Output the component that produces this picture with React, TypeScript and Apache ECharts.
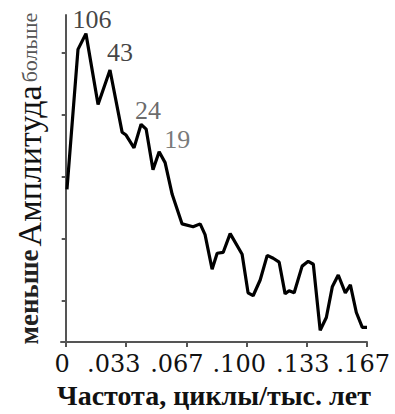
import React, { useEffect, useRef } from "react";
import * as echarts from "echarts";

// Frequency (cycles / thousand years) and relative amplitude
const freq = [0.0007, 0.0068, 0.0112, 0.0179, 0.0245, 0.0312, 0.0334, 0.0378, 0.0417, 0.0445, 0.0483, 0.0517, 0.0550, 0.0589, 0.0644, 0.0705, 0.0744, 0.0771, 0.0810, 0.0838, 0.0871, 0.0910, 0.0976, 0.1009, 0.1037, 0.1076, 0.1115, 0.1148, 0.1181, 0.1214, 0.1236, 0.1264, 0.1308, 0.1342, 0.1370, 0.1408, 0.1442, 0.1475, 0.1508, 0.1547, 0.1575, 0.1608, 0.1641, 0.1667];
const amp = [7.38, 14.14, 14.90, 11.48, 13.14, 10.14, 10.0, 9.38, 10.52, 10.29, 8.33, 9.19, 8.67, 7.14, 5.71, 5.57, 5.71, 5.19, 3.52, 4.29, 4.33, 5.24, 4.24, 2.38, 2.24, 3.0, 4.19, 4.05, 3.86, 2.33, 2.48, 2.38, 3.67, 3.90, 3.76, 0.57, 1.19, 2.67, 3.24, 2.38, 2.76, 1.43, 0.71, 0.71];

// Peaks labelled with their period (thousand years)
const peakIndex = [2, 4, 8, 11];
const peakText = ["106", "43", "24", "19"];

// Axis ticks and labels
const xTickValues = [0, 0.0333, 0.0667, 0.1, 0.1333, 0.1667];
const xTickLabels = ["0", ".033", ".067", ".100", ".133", ".167"];
const xLabelAt = [-0.002, 0.0266, 0.0615, 0.096, 0.1312, 0.1646];
const yTickValues = [2, 5, 8, 11, 14];

const xTitle = "Частота, циклы/тыс. лет";
const yTitleParts = ["меньше", "Амплитуда", "больше"];

const SERIF = "'Liberation Serif', 'Times New Roman', serif";
const DSERIF = "'DejaVu Serif', serif";

// label styling per peak (offsets / colours)
const peakStyle = [
  { offset: [6, 4], color: "#111" },
  { offset: [10, 0], color: "#111" },
  { offset: [7, 4], color: "#444" },
  { offset: [18, 6], color: "#555" },
];

export default function App() {
  const ref = useRef<HTMLDivElement>(null);
  useEffect(() => {
    if (!ref.current) return;
    const chart = echarts.init(ref.current, null, { renderer: "svg" });
    const lineData = freq.map((f, i) => [f, amp[i]]);
    const peakData = peakIndex.map((idx, k) => ({
      value: [freq[idx], amp[idx]],
      label: {
        show: true,
        position: "top",
        distance: 5,
        formatter: peakText[k],
        offset: peakStyle[k].offset,
        color: peakStyle[k].color,
        fontSize: 26,
        fontFamily: SERIF,
      },
    }));
    const nearestIndex = (v: number) => {
      let best = 0;
      for (let i = 1; i < xLabelAt.length; i++) {
        if (Math.abs(xLabelAt[i] - v) < Math.abs(xLabelAt[best] - v)) best = i;
      }
      return best;
    };
    chart.setOption({
      animation: false,
      backgroundColor: "#fff",
      textStyle: { fontFamily: SERIF },
      grid: { left: 61, right: 28, top: 15, bottom: 67, containLabel: false },
      xAxis: {
        type: "value",
        min: -0.0026,
        max: 0.1667,
        splitLine: { show: false },
        axisLine: { show: true, onZero: false, lineStyle: { color: "#555", width: 2 } },
        axisTick: { show: true, customValues: xTickValues, length: 5, lineStyle: { color: "#555", width: 2 } },
        axisLabel: {
          customValues: xLabelAt,
          formatter: (v: number) => xTickLabels[nearestIndex(v)],
          fontFamily: DSERIF,
          fontSize: 24,
          color: "#111",
          margin: 10,
        },
        name: xTitle,
        nameLocation: "middle",
        nameGap: 38,
        nameTextStyle: { fontFamily: SERIF, fontSize: 28, fontWeight: "bold", color: "#111" },
      },
      yAxis: {
        type: "value",
        min: 0,
        max: 15.8,
        splitLine: { show: false },
        axisLine: { show: true, lineStyle: { color: "#555", width: 2 } },
        axisTick: { show: true, customValues: yTickValues, length: 4, lineStyle: { color: "#555", width: 2 } },
        axisLabel: { show: false },
        name: `{a|${yTitleParts[0]}} {b|${yTitleParts[1]}} {c|${yTitleParts[2]}}`,
        nameLocation: "middle",
        nameRotate: 90,
        nameGap: 15,
        nameTextStyle: {
          rich: {
            a: { fontFamily: SERIF, fontSize: 27, fontWeight: "bold", color: "#222" },
            b: { fontFamily: SERIF, fontSize: 34, color: "#111" },
            c: { fontFamily: SERIF, fontSize: 22, color: "#555" },
          },
        },
      },
      series: [
        {
          type: "line",
          data: lineData,
          showSymbol: false,
          symbol: "none",
          lineStyle: { color: "#000", width: 3.2 },
          z: 2,
        },
        {
          type: "scatter",
          data: peakData,
          symbolSize: 0,
          itemStyle: { color: "transparent" },
          z: 3,
        },
      ],
    });
    return () => chart.dispose();
  }, []);
  return (
    <div
      ref={ref}
      style={{ position: "fixed", left: 0, top: 0, width: 395, height: 414, background: "#fff" }}
    />
  );
}
